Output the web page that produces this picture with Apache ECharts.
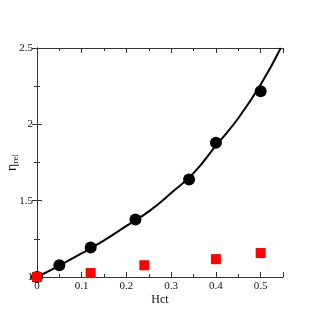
<!DOCTYPE html>
<html><head><meta charset="utf-8">
<script src="https://cdn.jsdelivr.net/npm/echarts@6/dist/echarts.min.js"></script>
<style>html,body{margin:0;padding:0;background:#fff}#c{width:318px;height:326px}</style>
</head><body><div id="c"></div>
<script>
// Data
const circleX = [0, 0.05, 0.12, 0.22, 0.34, 0.40, 0.50];
const circleY = [1.0, 1.077, 1.194, 1.377, 1.639, 1.879, 2.216];
const squareX = [0, 0.12, 0.24, 0.40, 0.50];
const squareY = [1.0, 1.026, 1.077, 1.117, 1.157];
const curveX = [0, 0.05, 0.10, 0.15, 0.20, 0.25, 0.30, 0.35, 0.40, 0.45, 0.50, 0.545];
const curveY = [1.0, 1.075, 1.155, 1.24, 1.335, 1.43, 1.55, 1.68, 1.86, 2.04, 2.26, 2.5];
const xTicks = [0, 0.1, 0.2, 0.3, 0.4, 0.5];
const yTicks = [1, 1.5, 2, 2.5];

const zip = (a, b) => a.map((v, i) => [v, b[i]]);
const font = 'Liberation Serif';
const axisCol = '#333';
const baseX = {
  type: 'value', min: 0, max: 0.55, interval: 0.1,
  axisLine: { lineStyle: { color: axisCol, width: 1 } },
  axisTick: { inside: true, length: 5, lineStyle: { color: axisCol } },
  minorTick: { show: true, splitNumber: 2, length: 3, lineStyle: { color: axisCol } },
  splitLine: { show: false }
};
const baseY = {
  type: 'value', min: 1, max: 2.5, interval: 0.5,
  axisLine: { show: true, lineStyle: { color: axisCol, width: 1 } },
  axisTick: { inside: true, length: 5, lineStyle: { color: axisCol } },
  minorTick: { show: true, splitNumber: 2, length: 3, lineStyle: { color: axisCol } },
  splitLine: { show: false }
};
const chart = echarts.init(document.getElementById('c'));
chart.setOption({
  animation: false,
  backgroundColor: '#fff',
  grid: { left: 37, right: 35, top: 48, bottom: 49, containLabel: false, outerBoundsMode: 'none' },
  xAxis: [
    Object.assign({}, baseX, {
      position: 'bottom',
      name: 'Hct', nameLocation: 'middle', nameGap: 17, nameMoveOverlap: false,
      nameTextStyle: { fontFamily: font, fontSize: 12, color: '#111' },
      axisLabel: { fontFamily: font, fontSize: 11, color: '#111', margin: 4,
        formatter: v => xTicks.includes(Math.round(v * 10) / 10) ? String(Math.round(v * 10) / 10) : '' }
    }),
    Object.assign({}, baseX, { position: 'top', axisLabel: { show: false } })
  ],
  yAxis: [
    Object.assign({}, baseY, {
      position: 'left',
      name: '{a|η}{b|rel}', nameLocation: 'middle', nameGap: 17, nameRotate: 90, nameMoveOverlap: false,
      nameTextStyle: { rich: {
        a: { fontFamily: font, fontSize: 14, color: '#111' },
        b: { fontFamily: font, fontSize: 9, color: '#111', padding: [7, 0, 0, 0] }
      } },
      axisLabel: { fontFamily: font, fontSize: 11, color: '#111', margin: 4,
        formatter: v => yTicks.includes(v) ? String(v) : '' }
    }),
    Object.assign({}, baseY, { position: 'right', axisLabel: { show: false } })
  ],
  series: [
    { type: 'line', data: zip(curveX, curveY), smooth: true, showSymbol: false,
      lineStyle: { color: '#000', width: 2 }, z: 2 },
    { type: 'scatter', data: zip(circleX, circleY), symbol: 'circle', symbolSize: 12,
      itemStyle: { color: '#000', opacity: 1 }, z: 3 },
    { type: 'scatter', data: zip(squareX, squareY), symbol: 'rect', symbolSize: 10,
      itemStyle: { color: '#ff0000', opacity: 1 }, z: 4 }
  ]
});
</script></body></html>
